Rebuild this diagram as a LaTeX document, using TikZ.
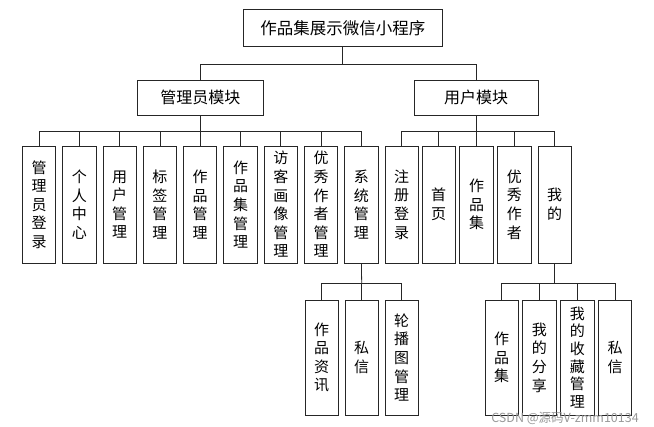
\documentclass[tikz,border=0pt]{standalone}
\usepackage{fontspec}
\setmainfont{Noto Sans CJK SC}
\usepackage{tikz}
\usetikzlibrary{positioning}
\tikzstyle{hbox} = [draw=black!85, line width=0.8pt, inner sep=0pt, font=\fontsize{16}{19}\selectfont]
\tikzstyle{vbox} = [draw=black!85, line width=0.8pt, minimum width=33.3pt, minimum height=117pt, inner sep=0pt, align=center, font=\fontsize{15}{18.6}\selectfont]
\tikzstyle{line} = [draw=black!85, line width=0.8pt]

\begin{document}
\begin{tikzpicture}[x=1pt, y=-1pt]
        \useasboundingbox (0,0) rectangle (654,427);

        % Top level
        \node[hbox, minimum width=199pt, minimum height=37.7pt, font=\fontsize{16.5}{19}\selectfont] (root) at (342.8,27.8) {作品集展示微信小程序};
        \node[hbox, minimum width=126pt, minimum height=35.7pt] (admin) at (200.3,97.8) {管理员模块};
        \node[hbox, minimum width=124.3pt, minimum height=35pt] (user) at (476.2,97.8) {用户模块};

        \coordinate (rootbus) at (342.8,64);
        \draw[line] (root.south) -- (rootbus);
        \draw[line] (rootbus) -| (admin.north);
        \draw[line] (rootbus) -| (user.north);

        % Admin modules
        \node[vbox] (a1) at (39,204.5) {管\\理\\员\\登\\录};
        \node[vbox] (a2) [right=6.2pt of a1] {个\\人\\中\\心};
        \node[vbox] (a3) [right=6.2pt of a2] {用\\户\\管\\理};
        \node[vbox] (a4) [right=6.2pt of a3] {标\\签\\管\\理};
        \node[vbox] (a5) [right=6.2pt of a4] {作\\品\\管\\理};
        \node[vbox] (a6) [right=6.2pt of a5] {作\\品\\集\\管\\理};
        \node[vbox] (a7) [right=6.2pt of a6] {访\\客\\画\\像\\管\\理};
        \node[vbox] (a8) [right=6.2pt of a7] {优\\秀\\作\\者\\管\\理};
        \node[vbox] (a9) [right=6.2pt of a8] {系\\统\\管\\理};

        \coordinate (adminbus) at (200.3,131);
        \draw[line] (admin.south) -- (adminbus);
        \draw[line] (adminbus) -| (a1.north) (adminbus) -| (a2.north) (adminbus) -| (a3.north)
                    (adminbus) -| (a4.north) (adminbus) -| (a5.north) (adminbus) -| (a6.north)
                    (adminbus) -| (a7.north) (adminbus) -| (a8.north) (adminbus) -| (a9.north);

        % User modules
        \node[vbox] (u1) at (401.7,204.5) {注\\册\\登\\录};
        \node[vbox] (u2) at (438.7,204.5) {首\\页};
        \node[vbox] (u3) at (476.5,204.5) {作\\品\\集};
        \node[vbox] (u4) at (514.3,204.5) {优\\秀\\作\\者};
        \node[vbox] (u5) at (554.7,204.5) {我\\的};

        \coordinate (userbus) at (476.2,131);
        \draw[line] (user.south) -- (userbus);
        \draw[line] (userbus) -| (u1.north) (userbus) -| (u2.north) (userbus) -| (u3.north)
                    (userbus) -| (u4.north) (userbus) -| (u5.north);

        % System management
        \node[vbox, minimum height=115pt] (s1) at (321.7,357.5) {作\\品\\资\\讯};
        \node[vbox, minimum height=115pt] (s2) at (361.7,357.5) {私\\信};
        \node[vbox, minimum height=115pt] (s3) at (401.7,357.5) {轮\\播\\图\\管\\理};

        \coordinate (sysbus) at (361.7,283);
        \draw[line] (a9.south) -- (sysbus);
        \draw[line] (sysbus) -| (s1.north) (sysbus) -| (s2.north) (sysbus) -| (s3.north);

        % Mine
        \node[vbox, minimum height=115pt] (m1) at (501.7,357.5) {作\\品\\集};
        \node[vbox, minimum height=115pt] (m2) at (539.3,357.5) {我\\的\\分\\享};
        \node[vbox, minimum height=115pt, font=\fontsize{15}{17.6}\selectfont] (m3) at (577.3,357.5) {我\\的\\收\\藏\\管\\理};
        \node[vbox, minimum height=115pt] (m4) at (615,357.5) {私\\信};

        \coordinate (minebus) at (554.7,283);
        \draw[line] (u5.south) -- (minebus);
        \draw[line] (minebus) -| (m1.north) (minebus) -| (m2.north) (minebus) -| (m3.north)
                    (minebus) -| (m4.north);

        % Watermark
        \node[text=black!40, font=\fontsize{12.5}{12.5}\selectfont] (mark) at (565,418) {CSDN @源码V-zmm10134};

    \end{tikzpicture}
\end{document}
